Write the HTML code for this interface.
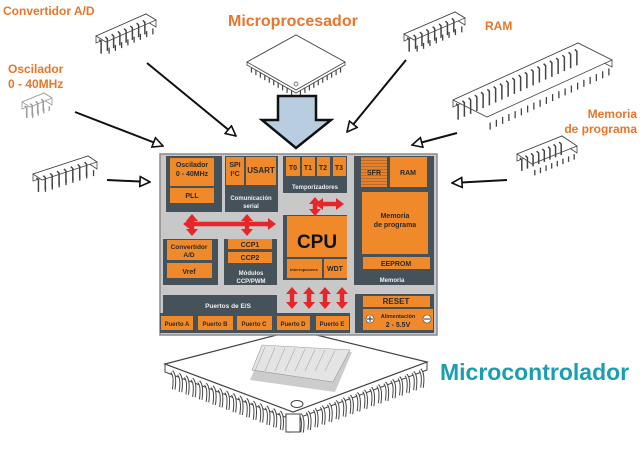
<!DOCTYPE html>
<html><head><meta charset="utf-8"><style>
html,body{margin:0;padding:0;background:#fff;width:640px;height:449px;overflow:hidden}
svg{display:block}
text{font-family:"Liberation Sans",sans-serif;font-weight:bold}
</style></head><body>
<svg id="s" width="640" height="449" viewBox="0 0 640 449" xmlns="http://www.w3.org/2000/svg">
<defs>
<marker id="oh" viewBox="0 0 12 12" refX="11" refY="6" markerWidth="12" markerHeight="12" markerUnits="userSpaceOnUse" orient="auto">
<path d="M1,1 L11,6 L1,11 Z" fill="#fff" stroke="#111" stroke-width="1.6"/></marker>
<pattern id="hatch" width="3" height="3" patternUnits="userSpaceOnUse"><rect width="3" height="3" fill="#e8822a"/><line x1="0" y1="1.5" x2="3" y2="1.5" stroke="#b86a30" stroke-width="1"/></pattern>
</defs>
<g id="chips"></g>
<g fill="#e8762a">
<text x="3" y="15" font-size="12">Convertidor A/D</text>
<text x="228" y="26" font-size="16">Microprocesador</text>
<text x="485" y="30" font-size="12">RAM</text>
<text x="8" y="73" font-size="12">Oscilador</text>
<text x="8" y="88" font-size="12">0 - 40MHz</text>
<text x="637" y="118" font-size="12" text-anchor="end">Memoria</text>
<text x="637" y="133" font-size="12" text-anchor="end">de programa</text>
</g>
<g stroke="#111" stroke-width="2" fill="none" marker-end="url(#oh)">
<line x1="147" y1="63" x2="236" y2="136"/>
<line x1="75" y1="112" x2="163" y2="146"/>
<line x1="107" y1="180" x2="150" y2="182"/>
<line x1="406" y1="60" x2="347" y2="132"/>
<line x1="457" y1="133" x2="412" y2="145"/>
<line x1="507" y1="180" x2="452" y2="183"/>
</g>
<path d="M278,96 L316,96 L316,120 L331,120 L296,148 L262,120 L278,120 Z" fill="#b8cde0" stroke="#111" stroke-width="2.5" stroke-linejoin="miter"/>

<g id="qfp"></g>

<rect x="160" y="154" width="277" height="181" fill="#c8c8c8" stroke="#8a8a8a" stroke-width="1.5"/>
<g fill="#45525a">
<rect x="166" y="156" width="56" height="56"/>
<rect x="225" y="156" width="53" height="56"/>
<rect x="283" y="156" width="64" height="37"/>
<rect x="354" y="156" width="80" height="129"/>
<rect x="283" y="215" width="64" height="65"/>
<rect x="163" y="239" width="55" height="46"/>
<rect x="224" y="239" width="53" height="46"/>
<rect x="163" y="295" width="114" height="38"/>
<rect x="160" y="313" width="190" height="20"/>
<rect x="355" y="294" width="79" height="39"/>
</g>
<g fill="#f0892a">
<rect x="170" y="158" width="44" height="28"/>
<rect x="170" y="188" width="44" height="15"/>
<rect x="226" y="157" width="18" height="28"/>
<rect x="246" y="157" width="30" height="28"/>
<rect x="286" y="157" width="14" height="19"/>
<rect x="302" y="157" width="13" height="19"/>
<rect x="317" y="157" width="13" height="19"/>
<rect x="333" y="157" width="13" height="19"/>
<rect x="361" y="157" width="26" height="30" fill="url(#hatch)"/>
<rect x="390" y="157" width="37" height="30"/>
<rect x="362" y="192" width="66" height="62"/>
<rect x="363" y="257" width="67" height="12"/>
<rect x="287" y="216" width="60" height="41"/>
<rect x="287" y="259" width="35" height="19"/>
<rect x="324" y="259" width="23" height="19"/>
<rect x="167" y="240" width="45" height="20"/>
<rect x="167" y="263" width="45" height="15"/>
<rect x="228" y="239" width="44" height="10"/>
<rect x="228" y="252" width="44" height="11"/>
<rect x="161" y="316" width="32" height="14"/>
<rect x="198" y="316" width="35" height="14"/>
<rect x="237" y="316" width="35" height="14"/>
<rect x="277" y="316" width="33" height="14"/>
<rect x="316" y="316" width="33" height="14"/>
<rect x="363" y="296" width="67" height="11"/>
<rect x="363" y="309" width="70" height="21"/>
</g>
<g font-size="7" fill="#2a2a2a" text-anchor="middle">
<text x="192" y="167">Oscilador</text><text x="192" y="176">0 - 40MHz</text>
<text x="192" y="198">PLL</text>
<text x="235" y="167">SPI</text><text x="235" y="176">I²C</text>
<text x="261" y="173" font-size="8">USART</text>
<text x="293" y="170">T0</text><text x="308" y="170">T1</text><text x="323" y="170">T2</text><text x="339" y="170">T3</text>
<text x="374" y="175">SFR</text><text x="408" y="175">RAM</text>
<text x="395" y="218">Memoria</text><text x="395" y="227">de programa</text>
<text x="396" y="266">EEPROM</text>
<text x="317" y="248" font-size="19" fill="#111">CPU</text>
<text x="304" y="271" font-size="4">Interrupciones</text>
<text x="335" y="271">WDT</text>
<text x="189" y="249" font-size="6.5">Convertidor</text><text x="189" y="257" font-size="6.5">A/D</text>
<text x="189" y="274">Vref</text>
<text x="250" y="247">CCP1</text><text x="250" y="260">CCP2</text>
<text x="177" y="326" font-size="6">Puerto A</text><text x="215" y="326" font-size="6">Puerto B</text>
<text x="254" y="326" font-size="6">Puerto C</text><text x="293" y="326" font-size="6">Puerto D</text>
<text x="332" y="326" font-size="6">Puerto E</text>
<text x="396" y="304" font-size="8">RESET</text>
<text x="398" y="318" font-size="5.5">Alimentación</text><text x="398" y="327">2 - 5.5V</text>
</g>
<g font-size="6" fill="#eee" text-anchor="middle">
<text x="315" y="189">Temporizadores</text>
<text x="251" y="200">Comunicación</text><text x="251" y="208">serial</text>
<text x="251" y="275">Módulos</text><text x="251" y="283">CCP/PWM</text>
<text x="392" y="282">Memoria</text>
<text x="228" y="308" font-size="6.5">Puertos de E/S</text>
</g>
<g fill="#fff" stroke="#333" stroke-width="0.6"><circle cx="370" cy="319" r="4"/><circle cx="427" cy="319" r="4"/></g>
<path d="M367,319h6M370,316v6M424,319h6" stroke="#333" stroke-width="1"/>
<g id="red" fill="#e8262a"></g>

<text x="440" y="380" font-size="23" fill="#1a9fb1">Microcontrolador</text>
</svg>
<script>
var NS="http://www.w3.org/2000/svg";
function el(p,t,a){var e=document.createElementNS(NS,t);for(var k in a)e.setAttribute(k,a[k]);p.appendChild(e);return e;}
var chips=document.getElementById('chips');
function dip(A,B,C,D,n,h,col){
  col=col||"#444";
  var t=7;
  for(var i=0;i<n;i++){var f=(i+0.5)/n;var x=C[0]+(D[0]-C[0])*f,y=C[1]+(D[1]-C[1])*f;
    el(chips,'line',{x1:x,y1:y+t,x2:x,y2:y+t+h*0.5,stroke:col,'stroke-width':1.3});}
  el(chips,'polygon',{points:[A,B,[B[0],B[1]+t],[A[0],A[1]+t]].join(' '),fill:'#fff',stroke:col,'stroke-width':0.8});
  el(chips,'polygon',{points:[B,C,[C[0],C[1]+t],[B[0],B[1]+t]].join(' '),fill:'#fff',stroke:col,'stroke-width':0.8});
  el(chips,'polygon',{points:[A,B,C,D].join(' '),fill:'#fff',stroke:col,'stroke-width':0.8});
  for(var i=0;i<n;i++){var f=(i+0.5)/n;var x=A[0]+(B[0]-A[0])*f,y=A[1]+(B[1]-A[1])*f+t;
    el(chips,'path',{d:'M'+x+','+(y-2)+' l2,2 l0,'+h,stroke:col,'stroke-width':1.5,fill:'none'});}
}
dip([96,36],[146,14],[156,20],[106,42],8,12);
dip([404,34],[455,12],[465,18],[414,40],8,12);
dip([453,100],[578,43],[612,60],[487,117],20,14);
dip([517,154],[562,136],[577,146],[532,164],8,11);
dip([33,174],[88,156],[97,162],[42,180],8,12);
dip([22,102],[44,93],[52,98],[30,107],4,10,"#999");
(function(){
 var T=[296,35],R=[345,62],B=[296,90],L=[247,62];
 el(chips,'polygon',{points:[T,R,[R[0],R[1]+3],[B[0],B[1]+3],[L[0],L[1]+3],L].join(' '),fill:'#fff',stroke:'#444','stroke-width':0.8});
 el(chips,'polygon',{points:[T,R,B,L].join(' '),fill:'#fff',stroke:'#444','stroke-width':0.8});
 function edge(P,Q,n){for(var i=1;i<n;i++){var f=i/n;var x=P[0]+(Q[0]-P[0])*f,y=P[1]+(Q[1]-P[1])*f+3;
  el(chips,'line',{x1:x,y1:y,x2:x,y2:y+5,stroke:'#444','stroke-width':1.2});}}
 edge(L,B,11);edge(B,R,11);
 el(chips,'circle',{cx:296,cy:84,r:2,fill:'#fff',stroke:'#444','stroke-width':0.7});
})();
(function(){
 var g=document.getElementById('qfp');
 var T=[296,330],R=[427,362],B=[293,412],L=[165,364];
 function edge(P,Q,n){for(var i=1;i<n;i++){var f=i/n;var x=P[0]+(Q[0]-P[0])*f,y=P[1]+(Q[1]-P[1])*f;
  el(g,'path',{d:'M'+x+','+(y+5)+' q4,4 2,18',stroke:'#444','stroke-width':3.6,fill:'none'});
  el(g,'path',{d:'M'+x+','+(y+5)+' q4,4 2,18',stroke:'#fff','stroke-width':1.6,fill:'none'});}}
 el(g,'polygon',{points:[L,B,R,[R[0],R[1]+8],[B[0],B[1]+8],[L[0],L[1]+8]].join(' '),fill:'#fff',stroke:'#444','stroke-width':1});
 edge(L,B,19);edge(B,R,19);
 el(g,'polygon',{points:[L,T,R,B].join(' '),fill:'#fff',stroke:'#444','stroke-width':1.2});
 el(g,'rect',{x:286,y:414,width:14,height:18,fill:'#fff',stroke:'#444','stroke-width':1});
 el(g,'ellipse',{cx:297,cy:404,rx:6,ry:3.5,fill:'#fff',stroke:'#444','stroke-width':1});
 el(g,'polygon',{points:'262,352 352,352 335,392 250,380',fill:'#aaa',opacity:0.6});
 el(g,'polygon',{points:'262,345 350,350 333,382 252,370',fill:'#e4e4e4',stroke:'#999','stroke-width':0.6});
 for(var i=0;i<8;i++){el(g,'line',{x1:265+i*10,y1:347+i*0.5,x2:255+i*10,y2:371,stroke:'#aaa','stroke-width':0.6});}
})();
var red=document.getElementById('red');
function dh(x1,x2,y){var s=2.2,h=6,l=8;
 el(red,'polygon',{points:[[x1,y],[x1+l,y-h],[x1+l,y-s],[x2-l,y-s],[x2-l,y-h],[x2,y],[x2-l,y+h],[x2-l,y+s],[x1+l,y+s],[x1+l,y+h]].join(' ')});}
function dv(x,y1,y2){var s=2.2,h=6,l=7;
 el(red,'polygon',{points:[[x,y1],[x+h,y1+l],[x+s,y1+l],[x+s,y2-l],[x+h,y2-l],[x,y2],[x-h,y2-l],[x-s,y2-l],[x-s,y1+l],[x-h,y1+l]].join(' ')});}
dh(183,276,224);dv(247,214,236);dv(192,214,236);
dv(315,197,216);dh(315,344,204);
dv(292,287,309);dv(309,287,309);dv(325,287,309);dv(342,287,309);
</script>
</body></html>
